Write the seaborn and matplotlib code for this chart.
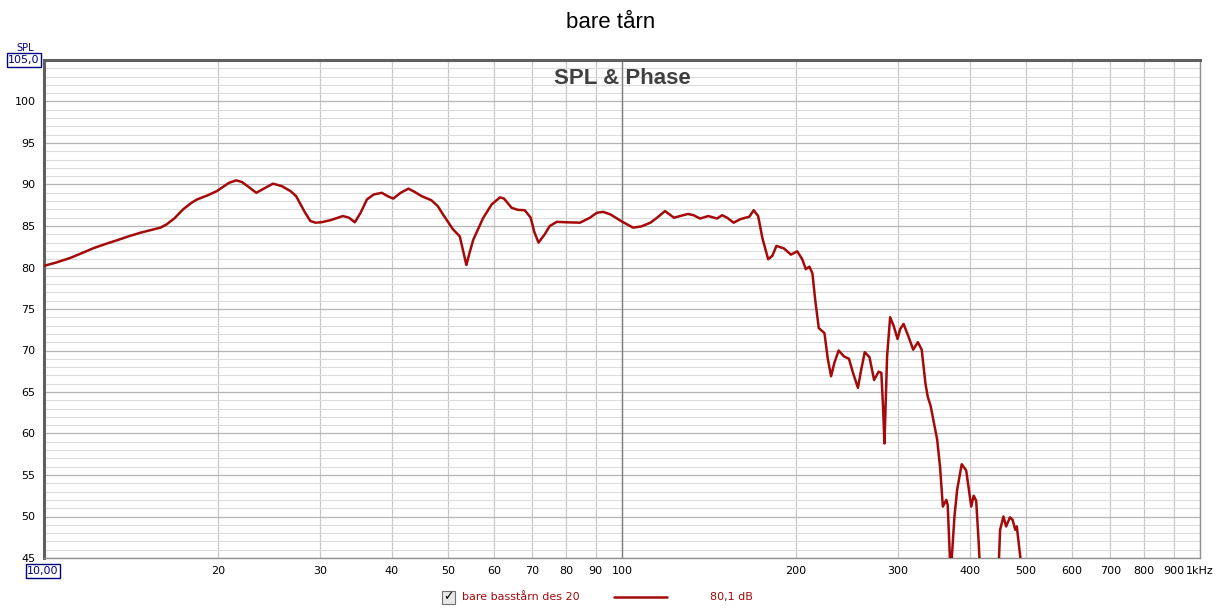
import matplotlib
matplotlib.use("Agg")
import matplotlib.pyplot as plt
from matplotlib.ticker import FixedLocator, MultipleLocator, NullFormatter
from matplotlib.patches import Rectangle
from matplotlib.lines import Line2D
import seaborn as sns
import pandas as pd

# measured SPL curve (Hz, dB)
freq = [10, 10.5, 11.1, 11.6, 12.2, 12.8, 13.4, 14.0, 14.7, 15.3, 15.9, 16.3, 16.8,
        17.4, 18.0, 18.4, 19.2, 19.9, 20.4, 20.9, 21.5, 22.0, 22.5, 23.3, 24.0, 24.9,
        25.8, 26.7, 27.3, 27.7, 28.3, 28.9, 29.5, 30.2, 31.3, 32.9, 33.7, 34.5, 35.3,
        36.2, 37.2, 38.4, 39.3, 40.2, 41.4, 42.7, 43.8, 45.0, 46.8, 48.0, 49.0, 51.0,
        52.4, 53.1, 53.8, 54.5, 55.3, 57.5, 59.5, 61.5, 62.5, 64.4, 66.0, 67.9, 69.5,
        70.5, 71.7, 73.5, 75.0, 77.1, 80.0, 84.6, 88.0, 90.5, 92.8, 95.5, 99.6, 104.5,
        108, 112, 115, 118.7, 123, 126, 130, 133, 136.5, 141, 146, 149, 152, 156, 160,
        163.5, 166, 169, 172, 175, 179, 182, 185, 190.6, 196, 201, 205, 208, 211, 213.5,
        216, 219, 224, 227, 230, 233, 237, 242, 247, 251, 256, 259, 263, 268, 273, 278,
        281, 283, 284.5, 286, 287.5, 291, 295, 299.7, 303, 307, 313, 319, 325, 330, 335,
        338, 342, 347, 351, 355, 359, 364, 366, 369, 370.5, 372, 376, 380, 387, 394, 402,
        406, 410, 414, 418, 447, 449, 451, 457, 462, 469, 474, 479, 482, 489, 495, 520]
spl = [80.2, 80.6, 81.15, 81.7, 82.35, 82.85, 83.3, 83.75, 84.2, 84.5, 84.8, 85.2, 85.9,
       87.0, 87.8, 88.2, 88.7, 89.2, 89.7, 90.2, 90.5, 90.3, 89.8, 89.0, 89.5, 90.1,
       89.8, 89.2, 88.6, 87.8, 86.6, 85.6, 85.4, 85.45, 85.7, 86.2, 86.0, 85.45, 86.6,
       88.2, 88.8, 89.0, 88.6, 88.3, 89.0, 89.5, 89.1, 88.6, 88.1, 87.4, 86.4, 84.6,
       83.75, 82.0, 80.3, 81.8, 83.35, 85.95, 87.6, 88.45, 88.3, 87.2, 86.95, 86.9, 86.0,
       84.3, 83.0, 84.0, 85.0, 85.5, 85.45, 85.4, 86.0, 86.6, 86.7, 86.4, 85.6, 84.8,
       84.95, 85.4, 86.0, 86.8, 86.0, 86.2, 86.45, 86.3, 85.9, 86.2, 85.9, 86.3, 86.0,
       85.4, 85.8, 86.0, 86.1, 86.9, 86.2, 83.5, 81.0, 81.4, 82.6, 82.3, 81.55, 81.95,
       81.0, 79.8, 80.1, 79.3, 76.0, 72.7, 72.1, 69.0, 66.9, 68.5, 70.0, 69.3, 69.0, 67.3,
       65.5, 67.5, 69.8, 69.2, 66.45, 67.45, 67.3, 63.0, 58.8, 64.0, 69.3, 74.0, 73.0, 71.4,
       72.6, 73.2, 71.7, 70.1, 71.0, 70.1, 66.0, 64.45, 63.3, 61.0, 59.25, 56.0, 51.2, 52.0,
       51.4, 45.5, 42.0, 45.0, 50.0, 53.2, 56.3, 55.55, 51.2, 52.5, 51.9, 47.0, 41.0, 41.0,
       45.0, 48.4, 50.0, 48.8, 49.9, 49.6, 48.4, 48.8, 45.0, 40.0, 35.0]

x_ticks = [20, 30, 40, 50, 60, 70, 80, 90, 100, 200, 300, 400, 500, 600, 700, 800, 900, 1000]
x_labels = ["20", "30", "40", "50", "60", "70", "80", "90", "100", "200", "300", "400",
            "500", "600", "700", "800", "900", "1kHz"]
y_ticks = [45, 50, 55, 60, 65, 70, 75, 80, 85, 90, 95, 100]

title = "bare tårn"
legend_name = "bare basstårn des 20"
legend_value = "80,1 dB"
curve_color = "#a50a0a"

df = pd.DataFrame({"freq": freq, "spl": spl})

sns.set_theme(style="white")
plt.rcParams["font.family"] = ["DejaVu Sans"]

fig = plt.figure(figsize=(12.22, 6.11), dpi=100)
ax = fig.add_axes([44 / 1222, 1 - 558 / 611, (1200 - 44) / 1222, (558 - 60) / 611])

sns.lineplot(data=df, x="freq", y="spl", ax=ax, color=curve_color, linewidth=1.8,
             estimator=None, sort=False, zorder=5)

ax.set_xscale("log")
ax.set_xlim(10, 1000)
ax.set_ylim(45, 105)

ax.xaxis.set_major_locator(FixedLocator(x_ticks))
ax.xaxis.set_minor_locator(FixedLocator([]))
ax.set_xticklabels(x_labels)
ax.xaxis.set_minor_formatter(NullFormatter())
ax.set_yticks(y_ticks)
ax.yaxis.set_minor_locator(MultipleLocator(1))
ax.tick_params(axis="both", which="both", length=0, labelsize=8, colors="black")
ax.tick_params(axis="x", pad=6)
ax.tick_params(axis="y", pad=6)

ax.grid(True, axis="y", which="minor", color="#dcdcdc", linewidth=0.8, zorder=0)
ax.grid(True, axis="y", which="major", color="#b4b4b4", linewidth=0.9, zorder=0)
ax.grid(True, axis="x", which="major", color="#c8c8c8", linewidth=0.9, zorder=0)
ax.axvline(100, color="#808080", linewidth=1.0, zorder=1)
ax.set_axisbelow(True)

for side in ["left", "top"]:
    ax.spines[side].set_color("#606060")
    ax.spines[side].set_linewidth(2.2)
for side in ["right", "bottom"]:
    ax.spines[side].set_color("#909090")
    ax.spines[side].set_linewidth(1.0)
ax.set_xlabel("")
ax.set_ylabel("")

ax.text(0.5, 1 - 18 / 498, "SPL & Phase", transform=ax.transAxes, ha="center", va="center",
        fontsize=16, fontweight="bold", color="#404040", family="Liberation Sans")

fig.text(0.5, 1 - 23 / 611, title, ha="center", va="center", fontsize=16,
         family="Liberation Sans", color="black")

box = dict(boxstyle="square,pad=0.15", facecolor="white", edgecolor="#000080", linewidth=1)
fig.text(24 / 1222, 1 - 60 / 611, "105,0", ha="center", va="center", fontsize=8,
         color="#000080", bbox=box)
fig.text(25 / 1222, 1 - 48 / 611, "SPL", ha="center", va="center", fontsize=7, color="#000080")
fig.text(43 / 1222, 1 - 571 / 611, "10,00", ha="center", va="center", fontsize=8,
         color="#000080", bbox=box)

# legend strip below the plot
ly = 1 - 597 / 611
fig.patches.append(Rectangle((442 / 1222, 1 - 604 / 611), 13 / 1222, 13 / 611,
                             transform=fig.transFigure, facecolor="#e8e8e8",
                             edgecolor="#707070", linewidth=0.8))
fig.text(448.5 / 1222, ly, "✓", ha="center", va="center", fontsize=9, color="black")
fig.text(462 / 1222, ly, legend_name, ha="left", va="center", fontsize=8, color=curve_color)
fig.add_artist(Line2D([614 / 1222, 667 / 1222], [ly, ly], transform=fig.transFigure,
                      color=curve_color, linewidth=1.8))
fig.text(710 / 1222, ly, legend_value, ha="left", va="center", fontsize=8, color=curve_color)

fig.savefig("out.png", dpi=100, facecolor="white")
